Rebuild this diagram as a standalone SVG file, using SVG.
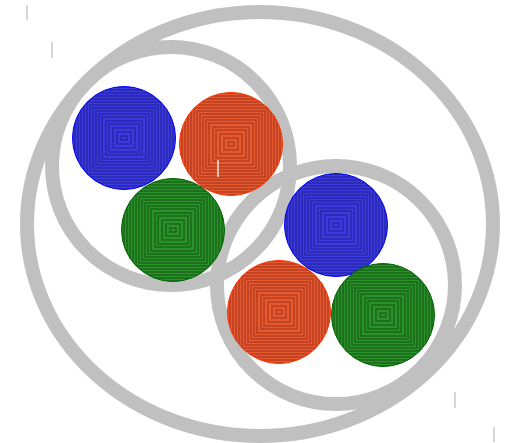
<svg xmlns="http://www.w3.org/2000/svg" xmlns:xlink="http://www.w3.org/1999/xlink" width="510" height="443" viewBox="0 0 510 443">
<style>
.ring{fill:none;stroke:#c0c0c0;stroke-width:14}
.tick{stroke:#c8c8c8;stroke-width:1.5}
.sq rect{fill:none;stroke-width:1.2;stroke-opacity:0.75}
.blue{fill:#3a3ae0}
.red{fill:#e65a32}
.green{fill:#2a922a}
</style>
<defs>
<g id="sq" class="sq">
<rect x="-3" y="-2" width="6" height="4"/>
<rect x="-7" y="-6" width="14" height="12"/>
<rect x="-11" y="-10" width="22" height="20"/>
<rect x="-15" y="-14" width="30" height="28"/>
<rect x="-18" y="-17" width="36" height="34"/>
<rect x="-22" y="-21" width="44" height="42"/>
<rect x="-25" y="-24" width="50" height="48"/>
<rect x="-28" y="-27" width="56" height="54"/>
<rect x="-31" y="-30" width="62" height="60"/>
<rect x="-34" y="-33" width="68" height="66"/>
<rect x="-37" y="-36" width="74" height="72"/>
<rect x="-40" y="-39" width="80" height="78"/>
<rect x="-43" y="-42" width="86" height="84"/>
<rect x="-46" y="-45" width="92" height="90"/>
<rect x="-49" y="-48" width="98" height="96"/>
<rect x="-52" y="-51" width="104" height="102"/>
<rect x="-55" y="-54" width="110" height="108"/>
</g>
<clipPath id="c"><circle r="51.5"/></clipPath>
</defs>
<g id="outer"><ellipse class="ring" cx="260" cy="224" rx="233" ry="212"/></g>
<g id="ringA"><circle class="ring" cx="171" cy="166" r="119"/></g>
<g id="ringB"><circle class="ring" cx="336" cy="285" r="119"/></g>

<g id="blue1" transform="translate(124,138)">
<circle r="51.5" class="blue"/><g clip-path="url(#c)"><use xlink:href="#sq" stroke="#1c1c88"/></g><circle r="51.5" fill="none" stroke="#0000ff" stroke-width="1"/></g>
<g id="red1" transform="translate(231,144)">
<circle r="51.5" class="red"/><g clip-path="url(#c)"><use xlink:href="#sq" stroke="#9a2a10"/></g><circle r="51.5" fill="none" stroke="#ff3300" stroke-width="1"/></g>
<g id="green1" transform="translate(173,230)">
<circle r="51.5" class="green"/><g clip-path="url(#c)"><use xlink:href="#sq" stroke="#0f4a0f"/></g><circle r="51.5" fill="none" stroke="#006400" stroke-width="1"/></g>
<g id="blue2" transform="translate(336,225)">
<circle r="51.5" class="blue"/><g clip-path="url(#c)"><use xlink:href="#sq" stroke="#1c1c88"/></g><circle r="51.5" fill="none" stroke="#0000ff" stroke-width="1"/></g>
<g id="red2" transform="translate(279,312)">
<circle r="51.5" class="red"/><g clip-path="url(#c)"><use xlink:href="#sq" stroke="#9a2a10"/></g><circle r="51.5" fill="none" stroke="#ff3300" stroke-width="1"/></g>
<g id="green2" transform="translate(383,315)">
<circle r="51.5" class="green"/><g clip-path="url(#c)"><use xlink:href="#sq" stroke="#0f4a0f"/></g><circle r="51.5" fill="none" stroke="#006400" stroke-width="1"/></g>

<g id="ticks">
<line class="tick" x1="27" y1="5" x2="27" y2="20"/>
<line class="tick" x1="52" y1="42" x2="52" y2="58"/>
<line class="tick" x1="455" y1="392" x2="455" y2="408"/>
<line class="tick" x1="494" y1="427" x2="494" y2="442"/>
<line x1="218" y1="160" x2="218" y2="177" stroke="#e8e8e8" stroke-width="1.5"/>
</g>
</svg>
